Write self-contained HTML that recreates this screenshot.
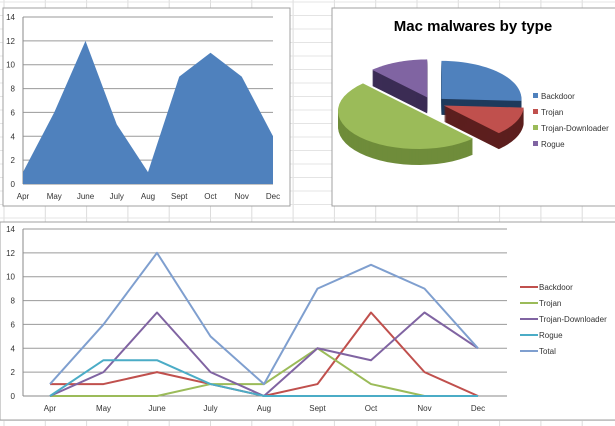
<!DOCTYPE html>
<html><head><meta charset="utf-8"><style>
body{margin:0;width:615px;height:426px;overflow:hidden;background:#fff;font-family:"Liberation Sans",sans-serif}
svg{position:absolute;left:0;top:0}
</style></head><body>
<svg id="s" width="615" height="426" xmlns="http://www.w3.org/2000/svg">
<g id="grid"></g>
<g id="area"></g>
<g id="pie"></g>
<g id="line"></g>
</svg>
<script>
const months=["Apr","May","June","July","Aug","Sept","Oct","Nov","Dec"];
const yTicks=[0,2,4,6,8,10,12,14];
const backdoor=[1,1,2,1,0,1,7,2,0];
const trojan=[0,0,0,1,1,4,1,0,0];
const downloader=[0,2,7,2,0,4,3,7,4];
const rogue=[0,3,3,1,0,0,0,0,0];
const total=[1,6,12,5,1,9,11,9,4];
const pieLabels=["Backdoor","Trojan","Trojan-Downloader","Rogue"];
const pieValues=[15,7,29,7];

const NS="http://www.w3.org/2000/svg";
function mk(p,t,a){const e=document.createElementNS(NS,t);for(const k in a)e.setAttribute(k,a[k]);p.appendChild(e);return e;}
const G=id=>document.getElementById(id);

// sheet grid
const g=G('grid');
for(let x=4;x<615;x+=41.3){const l=mk(g,'line',{x1:x,y1:0,x2:x,y2:426,stroke:'#dcdcdc','stroke-width':1});

}
for(let y=2;y<426;y+=13.5){const l=mk(g,'line',{x1:0,y1:y,x2:615,y2:y,stroke:'#e4e4e4','stroke-width':1});

}

// panels
function panel(par,x,y,w,h,name){const r=mk(par,'rect',{x:x,y:y,width:w,height:h,fill:'#fff',stroke:'#a0a0a0'});

}

function axes(par,x0,x1,y0,y1,left,right){
  const xs=i=>x0+(x1-x0)*i/(months.length-1);
  const ys=v=>y0-(y0-y1)*v/14;
  yTicks.forEach(v=>{
    const gl=mk(par,'line',{x1:left,x2:right,y1:ys(v),y2:ys(v),stroke:v?'#9a9a9a':'#8a8a8a','stroke-width':1});
    
    
    const t=mk(par,'text',{x:left-8,y:ys(v)+3,'font-size':8,fill:'#333','text-anchor':'end'});t.textContent=v;
    
    
  });
  mk(par,'line',{x1:left,x2:left,y1:ys(14),y2:ys(0),stroke:'#8a8a8a'});
  months.forEach((m,i)=>{
    const t=mk(par,'text',{x:xs(i),y:y0+15,'font-size':8,fill:'#333','text-anchor':'middle'});t.textContent=m;
    
    
  });
  return [xs,ys];
}

// area chart
const A=G('area');
panel(A,3,8,287,198,'area-chart-frame');
{const [xs,ys]=axes(A,23,273,184,17,23,273);
let d='M'+xs(0)+','+ys(0);
total.forEach((v,i)=>d+=' L'+xs(i)+','+ys(v));
d+=' L'+xs(total.length-1)+','+ys(0)+'Z';
const p=mk(A,'path',{d:d,fill:'#4f81bd'});

}

// pie chart
const P=G('pie');
panel(P,332,8,290,198,'pie-chart-frame');
{const t=mk(P,'text',{x:473,y:31,'font-size':15,'font-weight':'bold','text-anchor':'middle',fill:'#000'});t.textContent='Mac malwares by type';


const cols=['#4f81bd','#c0504d','#9bbb59','#8064a2'];
const dark=['#1f3a5c','#5c1f1e','#5f7a2e','#3b2c55'];
const cx=432,cy=103,rx=80,ry=38,depth=16;
const sum=pieValues.reduce((a,b)=>a+b,0);
let a0=0;const slices=[];
pieValues.forEach((v,i)=>{const a1=a0+v/sum*2*Math.PI;slices.push([a0,a1,i]);a0=a1;});
function sp(a0,a1,ox,oy){
  let d='M'+(cx+ox)+','+(cy+oy);const n=30;
  for(let k=0;k<=n;k++){const a=a0+(a1-a0)*k/n;d+=' L'+(cx+ox+rx*Math.sin(a))+','+(cy+oy-ry*Math.cos(a));}
  return d+'Z';}
const order=[3,0,1,2];
order.forEach(i=>{const [b0,b1]=slices[i];const m=(b0+b1)/2;const ex=(i==2?-10:10);
  const ox=Math.abs(ex)*Math.sin(m)*(i==2?1:1.3)*(i==2?1:1),oy=-Math.abs(ex)*0.6*Math.cos(m);
  const oxx=i==2?-14:ox,oyy=i==2?8:oy;
  for(let z=depth;z>0;z-=1){const s=mk(P,'path',{d:sp(b0,b1,oxx,oyy+z),fill:i==2?'#6f8c3a':dark[i]});
    
    }
  const top=mk(P,'path',{d:sp(b0,b1,oxx,oyy),fill:cols[i]});
  
  
});
pieLabels.forEach((l,i)=>{const y=98+i*16;
  const r=mk(P,'rect',{x:533,y:y-5,width:5,height:5,fill:cols[i]});
  
  
  const t=mk(P,'text',{x:541,y:y+1,'font-size':8,fill:'#333'});t.textContent=l;
  
  });
}

// line chart
const L=G('line');
panel(L,0,222,640,198,'line-chart-frame');
{const [xs,ys]=axes(L,50,478,396,229,23,507);
const series=[[backdoor,'#c0504d','Backdoor'],[trojan,'#9bbb59','Trojan'],[downloader,'#8064a2','Trojan-Downloader'],[rogue,'#4bacc6','Rogue'],[total,'#7f9fcf','Total']];
[rogue,trojan,backdoor,downloader,total].forEach(()=>{});
series.forEach(([d,c,n],k)=>{
  const pts=d.map((v,i)=>xs(i)+','+ys(v)).join(' ');
  const pl=mk(L,'polyline',{points:pts,fill:'none',stroke:c,'stroke-width':2,'stroke-linejoin':'round'});
  
  
  const y=287+k*16;
  const ll=mk(L,'line',{x1:520,x2:538,y1:y,y2:y,stroke:c,'stroke-width':2});
  
  
  const t=mk(L,'text',{x:539,y:y+3,'font-size':8,fill:'#333'});t.textContent=n;
  
  
});}
</script>
</body></html>
